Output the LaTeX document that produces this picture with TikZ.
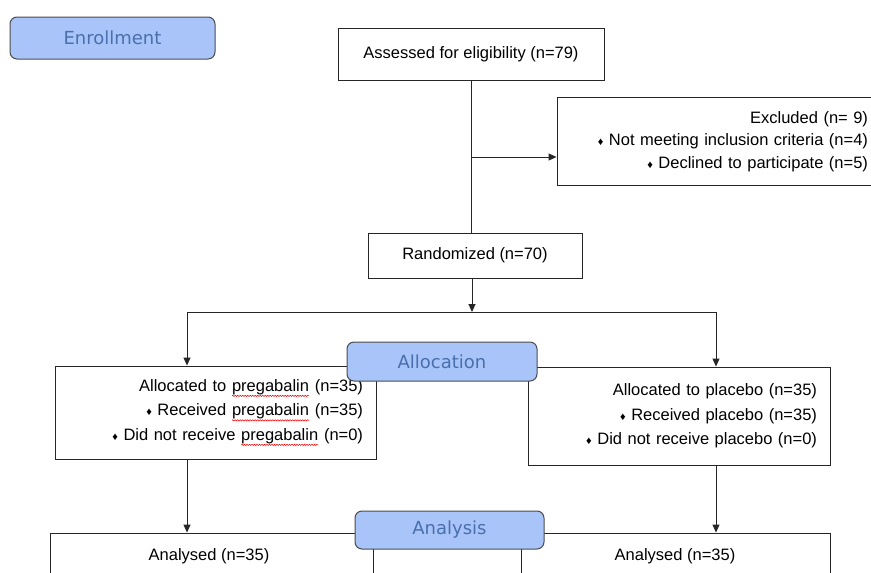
\documentclass[tikz,border=0pt]{standalone}
\usepackage{fontspec}
\setmainfont{Liberation Sans}
\newfontfamily\phasefont{DejaVu Sans}
\usetikzlibrary{arrows.meta,decorations.pathmorphing}

\definecolor{phasefill}{HTML}{A9C4F8}
\definecolor{phasetext}{HTML}{4A6FAE}

% red spell-check wave under a word
\newcommand{\spellwave}[1]{\tikz[baseline=(w.base)]{\node[draw=none, fill=none, inner sep=0pt, outer sep=0pt,
        minimum size=0pt, text width=, align=center] (w) {#1};
    \draw[red, line width=0.5pt, decorate, decoration={snake, amplitude=0.7pt, segment length=2.5pt}]
        ([yshift=-1.3pt]w.south west) -- ([yshift=-1.3pt]w.south east);}}
\newcommand{\dmd}{{\fontsize{11}{11}\selectfont ♦}~}

\tikzset{
    box/.style={draw=black!85, line width=0.9pt, fill=white, inner sep=0pt,
        font=\fontsize{16.5}{24.5}\selectfont},
    listbox/.style={box, align=right, inner xsep=13pt},
    phase/.style={draw=black!70, line width=1pt, fill=phasefill, rounded corners=7pt,
        text=phasetext, inner sep=0pt, font=\phasefont\fontsize{18}{20}\selectfont},
    flow/.style={line width=0.9pt, draw=black!85},
    arr/.style={flow, -{Triangle[length=8pt,width=7pt]}},
}

\begin{document}
\begin{tikzpicture}[x=1pt, y=-1pt]
    \useasboundingbox (0,0) rectangle (871,573);
    \clip (0,0) rectangle (871,573);

    % enrollment
    \node[box, minimum width=266pt, minimum height=52pt] (assess) at (471,54)
        {Assessed for eligibility (n=79)};
    \node[listbox, text width=298pt, minimum height=88pt, font=\fontsize{16.5}{22.5}\selectfont] (excl) at (719,141.5)
        {Excluded (n= 9)\\
         \dmd Not meeting inclusion criteria (n=4)\\
         \dmd Declined to participate (n=5)};
    \node[box, minimum width=214pt, minimum height=45pt] (rand) at (475,255.5)
        {Randomized (n=70)};

    % allocation
    \node[listbox, text width=295pt, minimum height=93pt] (allocL) at (215.5,412.5)
        {Allocated to \spellwave{pregabalin} (n=35)\\
         \dmd Received \spellwave{pregabalin} (n=35)\\
         \dmd Did not receive \spellwave{pregabalin} (n=0)};
    \node[listbox, text width=276pt, minimum height=98pt] (allocR) at (679,416)
        {Allocated to placebo (n=35)\\
         \dmd Received placebo (n=35)\\
         \dmd Did not receive placebo (n=0)};

    % analysis
    \node[box, minimum width=323pt, minimum height=87pt] (anaL) at (211.5,576.5) {};
    \node[box, minimum width=309pt, minimum height=87pt] (anaR) at (675.5,576.5) {};
    \node[font=\fontsize{16.5}{18}\selectfont] (anaLtxt) at (209,556) {Analysed (n=35)};
    \node[font=\fontsize{16.5}{18}\selectfont] (anaRtxt) at (675,556) {Analysed (n=35)};

    % connectors
    \coordinate (exclin) at (excl.west |- 0,157);
    \coordinate (fork) at (472,312);
    \coordinate (forkL) at (187,312);
    \coordinate (forkR) at (716,312);
    \draw[flow] (assess.south) -- (assess.south |- rand.north);
    \draw[arr] (assess.south |- exclin) -- (exclin);
    \draw[arr] (fork |- rand.south) -- (fork);
    \draw[flow] (forkL) -- (forkR);
    \draw[arr] (forkL) -- (forkL |- allocL.north);
    \draw[arr] (forkR) -- (forkR |- allocR.north);
    \draw[arr] (forkL |- allocL.south) -- (forkL |- anaL.north);
    \draw[arr] (forkR |- allocR.south) -- (forkR |- anaR.north);

    % phase labels
    \node[phase, minimum width=205pt, minimum height=42pt] (enroll) at (112.5,38) {Enrollment};
    \node[phase, minimum width=190pt, minimum height=39pt] (alloc) at (442,361.5) {Allocation};
    \node[phase, minimum width=189pt, minimum height=38pt] (analysis) at (449.5,530) {Analysis};
\end{tikzpicture}
\end{document}
